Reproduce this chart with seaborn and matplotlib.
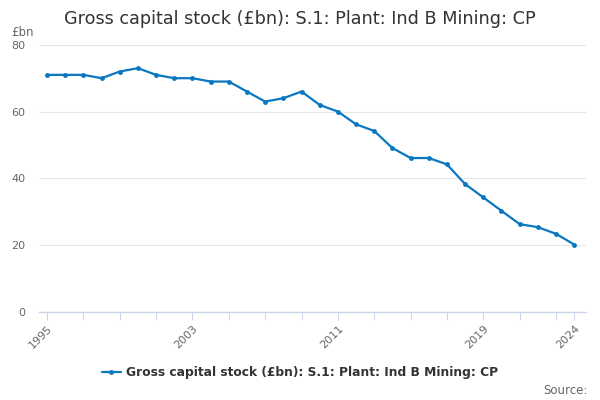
import matplotlib.pyplot as plt
import numpy as np
import pandas as pd
import seaborn as sns
from matplotlib.lines import Line2D

# data
years = list(range(1995, 2025))
stock = [71, 71, 71, 70, 72, 73, 71, 70, 70, 69,
         69, 66, 63, 64, 66, 62, 60, 56.2, 54.2, 49.1,
         46.1, 46.1, 44.2, 38.3, 34.3, 30.3, 26.3, 25.4, 23.4, 20.2]
series_name = "Gross capital stock (£bn): S.1: Plant: Ind B Mining: CP"
label_years = [1995, 2003, 2011, 2019, 2024]

df = pd.DataFrame({"Year": years, "Value": stock, "Series": series_name})

sns.set_theme(style="white")
plt.rcParams['font.family'] = ['DejaVu Sans']

fig = plt.figure(figsize=(6, 4), dpi=100)
ax = fig.add_axes([0.065, 0.22, 0.912, 0.668])

sns.lineplot(data=df, x="Year", y="Value", hue="Series", palette=["#0a77c1"],
             marker="o", markersize=3.5, markeredgewidth=0, linewidth=1.6, ax=ax,
             legend=False)

ax.set_ylim(0, 80)
ax.set_xlim(1994.56, 2024.66)
ax.set_yticks([0, 20, 40, 60, 80])
ax.yaxis.grid(True, color="#e6e6e6", linewidth=0.8)
ax.set_axisbelow(True)

# ticks every two years plus the last year, labels on a few of them
tick_years = list(range(1995, 2024, 2)) + [2024]
ax.set_xticks(tick_years)
ax.set_xticklabels([str(y) if y in label_years else "" for y in tick_years],
                   rotation=45, ha="right", rotation_mode="anchor")
ax.tick_params(axis="x", length=6, width=0.8, color="#ccd6eb", labelsize=8,
               labelcolor="#666666", pad=2, bottom=True)
ax.tick_params(axis="y", length=0, labelsize=8, labelcolor="#666666", pad=10)

for s in ["top", "right", "left"]:
    ax.spines[s].set_visible(False)
ax.spines["bottom"].set_color("#ccd6eb")
ax.spines["bottom"].set_linewidth(1)

ax.set_xlabel("")
ax.set_ylabel("")

fig.text(0.5, 0.952, series_name, ha="center", va="center", fontsize=12.7, color="#333333")
fig.text(0.018, 0.92, "£bn", ha="left", va="center", fontsize=8.5, color="#666666")

# legend
handle = Line2D([0], [0], color="#0a77c1", linewidth=1.6, marker="o", markersize=3.5,
                markeredgewidth=0)
fig.legend([handle], [series_name], loc="center", bbox_to_anchor=(0.5, 0.068),
           frameon=False, prop={"size": 8.8, "weight": "bold"}, labelcolor="#333333",
           handlelength=1.6, handletextpad=0.4)
fig.text(0.98, 0.025, "Source:", ha="right", va="center", fontsize=8.5, color="#666666")

fig.savefig("out.png", dpi=100)
